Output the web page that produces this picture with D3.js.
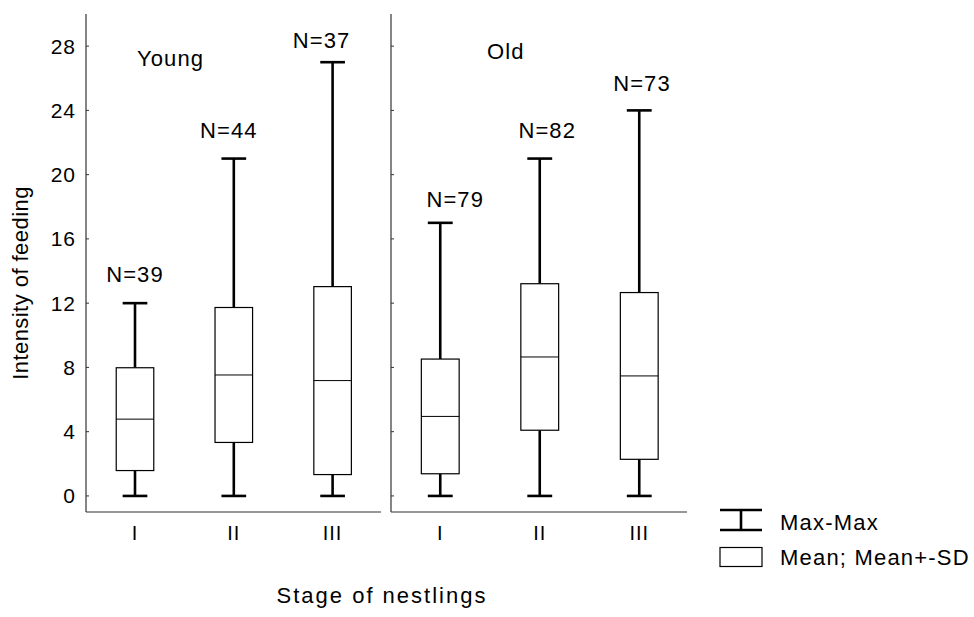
<!DOCTYPE html>
<html><head><meta charset="utf-8">
<script src="https://cdn.jsdelivr.net/npm/d3@7"></script>
<style>
body{margin:0;background:#fff}
text{font-family:"Liberation Sans",Arial,sans-serif;fill:#000}
</style>
</head><body>
<svg id="c" width="974" height="617"></svg>
<script>
// ---- data ----
const groups = ["Young", "Old"];
const stages = ["I", "II", "III"];
const sampleN = [[39, 44, 37], [79, 82, 73]];
const maxVals = [[12, 21, 27], [17, 21, 24]];
const minVals = [[0, 0, 0], [0, 0, 0]];
const meanVals = [[4.78, 7.53, 7.18], [4.95, 8.65, 7.47]];
const sdVals = [[3.2, 4.2, 5.85], [3.57, 4.56, 5.19]];
const yTicks = [0, 4, 8, 12, 16, 20, 24, 28];
const legendLabels = ["Max-Max", "Mean; Mean+-SD"];
const xTitle = "Stage of nestlings";
const yTitle = "Intensity of feeding";

// ---- layout ----
const svg = d3.select("#c");
const y = d3.scaleLinear().domain([-1, 30]).range([512, 14]);
const panelRanges = [[85.6, 382], [390.5, 689]];
const axisX = [86, 391];
const axisEnd = [381, 687];
const groupLabelPos = [[137, 66], [487, 59]];
// offsets of N labels from (stage centre, max) in px
const nDx = [[0, -5, -11], [15, 7.5, 2.7]];
const nDy = [[-21.5, -21, -14.5], [-16, -21, -19.5]];
const FS = 22;

groups.forEach((g, gi) => {
  const x = d3.scaleBand().domain(stages).range(panelRanges[gi]).padding(0);
  const bw = x.bandwidth();
  const ax = axisX[gi];
  const gp = svg.append("g");

  // axes lines
  gp.append("line").attr("x1", ax).attr("x2", ax).attr("y1", y(30)).attr("y2", y(-1))
    .attr("stroke", "#333").attr("stroke-width", 1.2);
  gp.append("line").attr("x1", ax).attr("x2", axisEnd[gi]).attr("y1", y(-1)).attr("y2", y(-1))
    .attr("stroke", "#333").attr("stroke-width", 1.2);
  // y ticks (inward)
  gp.selectAll(".yt").data(yTicks).enter().append("line")
    .attr("x1", ax).attr("x2", ax + 3).attr("y1", d => y(d)).attr("y2", d => y(d))
    .attr("stroke", "#333").attr("stroke-width", 1);
  if (gi === 0) {
    gp.selectAll(".ytl").data(yTicks).enter().append("text")
      .attr("x", 76).attr("y", d => y(d) + 7.5).attr("text-anchor", "end")
      .attr("font-size", 21).style("letter-spacing", "1px").text(d => d);
  }
  // x tick labels
  gp.selectAll(".xtl").data(stages).enter().append("text")
    .attr("x", d => x(d) + bw / 2).attr("y", 540).attr("text-anchor", "middle")
    .attr("font-size", 20).style("letter-spacing", "1px").text(d => d);

  // group label
  gp.append("text").attr("x", groupLabelPos[gi][0]).attr("y", groupLabelPos[gi][1])
    .attr("font-size", FS).style("letter-spacing", "1.1px").text(g);

  stages.forEach((s, si) => {
    const cx = x(s) + bw / 2;
    const boxW = bw * 0.38, capW = bw * 0.25;
    const mn = meanVals[gi][si], sd = sdVals[gi][si];
    const top = mn + sd, bot = mn - sd;
    // whiskers
    gp.append("line").attr("x1", cx).attr("x2", cx).attr("y1", y(maxVals[gi][si])).attr("y2", y(top))
      .attr("stroke", "#000").attr("stroke-width", 2.6);
    gp.append("line").attr("x1", cx).attr("x2", cx).attr("y1", y(bot)).attr("y2", y(minVals[gi][si]))
      .attr("stroke", "#000").attr("stroke-width", 2.6);
    [maxVals[gi][si], minVals[gi][si]].forEach(v => {
      gp.append("line").attr("x1", cx - capW / 2).attr("x2", cx + capW / 2)
        .attr("y1", y(v)).attr("y2", y(v)).attr("stroke", "#000").attr("stroke-width", 2.6);
    });
    // box
    gp.append("rect").attr("x", cx - boxW / 2).attr("width", boxW)
      .attr("y", y(top)).attr("height", y(bot) - y(top))
      .attr("fill", "#fff").attr("stroke", "#000").attr("stroke-width", 1.2);
    gp.append("line").attr("x1", cx - boxW / 2).attr("x2", cx + boxW / 2)
      .attr("y1", y(mn)).attr("y2", y(mn)).attr("stroke", "#000").attr("stroke-width", 1);
    // N label
    gp.append("text").attr("x", cx + nDx[gi][si]).attr("y", y(maxVals[gi][si]) + nDy[gi][si])
      .attr("text-anchor", "middle").attr("font-size", FS).style("letter-spacing", "1.1px")
      .text("N=" + sampleN[gi][si]);
  });
});

// axis titles
svg.append("text").attr("transform", "translate(28,283) rotate(-90)")
  .attr("text-anchor", "middle").attr("font-size", FS).style("letter-spacing", "0.45px").text(yTitle);
svg.append("text").attr("x", 382).attr("y", 603).attr("text-anchor", "middle")
  .attr("font-size", FS).style("letter-spacing", "2px").text(xTitle);

// legend
const lg = svg.append("g");
const lx0 = 720, lx1 = 762, lcx = 741;
lg.append("line").attr("x1", lx0).attr("x2", lx1).attr("y1", 510).attr("y2", 510).attr("stroke", "#000").attr("stroke-width", 2.6);
lg.append("line").attr("x1", lx0).attr("x2", lx1).attr("y1", 530).attr("y2", 530).attr("stroke", "#000").attr("stroke-width", 2.6);
lg.append("line").attr("x1", lcx).attr("x2", lcx).attr("y1", 510).attr("y2", 530).attr("stroke", "#000").attr("stroke-width", 2.6);
lg.append("rect").attr("x", lx0).attr("y", 547.5).attr("width", lx1 - lx0).attr("height", 19)
  .attr("fill", "#fff").attr("stroke", "#000").attr("stroke-width", 1.2);
lg.selectAll(".lt").data(legendLabels).enter().append("text")
  .attr("x", 780).attr("y", (d, i) => 529.5 + i * 35.5).attr("font-size", FS)
  .style("letter-spacing", "1.2px").text(d => d);
</script>
</body></html>
